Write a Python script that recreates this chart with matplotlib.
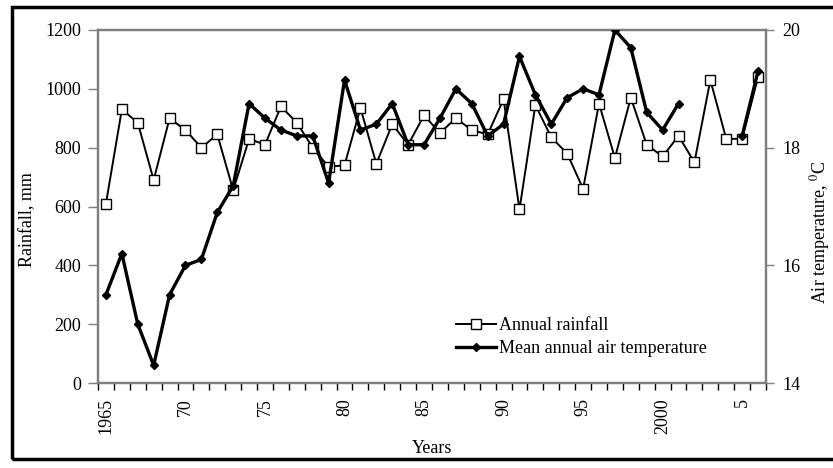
import numpy as np
import matplotlib
matplotlib.use("Agg")
import matplotlib.pyplot as plt
from matplotlib.lines import Line2D
from matplotlib.patches import Rectangle

plt.rcParams['font.family'] = ['Liberation Serif', 'DejaVu Serif']
plt.rcParams['mathtext.fontset'] = 'stix'

years = list(range(1965, 2007))

# annual rainfall, mm
rainfall = [610, 930, 885, 690, 900, 860, 800, 845, 655, 830,
            810, 940, 885, 800, 735, 740, 935, 745, 880, 810,
            910, 850, 900, 860, 845, 965, 590, 945, 835, 780,
            660, 950, 765, 970, 810, 770, 840, 750, 1030, 830,
            830, 1040]

# mean annual air temperature, C (no data 2002-2004)
temperature = [15.5, 16.2, 15.0, 14.3, 15.5, 16.0, 16.1, 16.9, 17.35, 18.75,
               18.5, 18.3, 18.2, 18.2, 17.4, 19.15, 18.3, 18.4, 18.75, 18.05,
               18.05, 18.5, 19.0, 18.75, 18.2, 18.4, 19.55, 18.9, 18.4, 18.85,
               19.0, 18.9, 20.0, 19.7, 18.6, 18.3, 18.75, np.nan, np.nan, np.nan,
               18.2, 19.3]

tick_pos = [0, 5, 10, 15, 20, 25, 30, 35, 40]
tick_labels = ['1965', '70', '75', '80', '85', '90', '95', '2000', '5']

fs = 13
spine_col = '#7f7f7f'

fig = plt.figure(figsize=(8.33, 4.68), dpi=100)
ax = fig.add_axes([98 / 833, 1 - 383 / 468, 668 / 833, 353 / 468])
ax2 = ax.twinx()

x = np.arange(len(years))
ax.plot(x, rainfall, color='black', lw=1.4, marker='s', ms=6.5,
        mfc='white', mec='black', mew=1.0, zorder=3)
ax2.plot(x, temperature, color='black', lw=2.4, marker='D', ms=4,
         mfc='black', mec='black', zorder=3)

ax.set_xlim(-0.5, len(years) - 0.5)
ax.set_ylim(0, 1200)
ax.set_yticks(range(0, 1201, 200))
ax2.set_ylim(14, 20)
ax2.set_yticks([14, 16, 18, 20])

ax.set_xticks(tick_pos)
ax.set_xticklabels(tick_labels, rotation=90, fontsize=fs)
ax.set_xticks(np.arange(-0.5, len(years), 1), minor=True)
ax.tick_params(axis='x', which='major', length=0, pad=11)
ax.tick_params(axis='x', which='minor', length=5, width=1, direction='out', color='black')
ax.tick_params(axis='y', labelsize=fs, length=7, width=1, pad=5, color=spine_col)
ax2.tick_params(axis='y', labelsize=fs, length=6, width=1, pad=6, color=spine_col)

for a in (ax, ax2):
    for s in a.spines.values():
        s.set_color(spine_col)
        s.set_linewidth(1.6)

ax.set_xlabel('Years', fontsize=fs, labelpad=4)
fig.text(28 / 833, 1 - 220 / 468, 'Rainfall, mm', rotation=90,
         ha='center', va='center', fontsize=fs)
fig.text(820 / 833, 1 - 232 / 468, 'Air temperature, $^{0}$C', rotation=90,
         ha='center', va='center', fontsize=fs)

handles = [Line2D([], [], color='black', lw=1.4, marker='s', ms=6.5,
                  mfc='white', mec='black', mew=1.0),
           Line2D([], [], color='black', lw=2.4, marker='D', ms=4,
                  mfc='black', mec='black')]
ax2.legend(handles, ['Annual rainfall', 'Mean annual air temperature'],
           loc='center left', bbox_to_anchor=(456 / 833, 1 - 337 / 468),
           bbox_transform=fig.transFigure, frameon=False, fontsize=fs,
           handlelength=2.2, handletextpad=0.2, labelspacing=0.35,
           borderpad=0, borderaxespad=0)

# outer frame around the chart
fig.patches.append(Rectangle((12 / 833, 1 - 459 / 468), 840 / 833, 452 / 468,
                             transform=fig.transFigure, fill=False,
                             ec='black', lw=2.5))

fig.savefig('out.png', dpi=100)
